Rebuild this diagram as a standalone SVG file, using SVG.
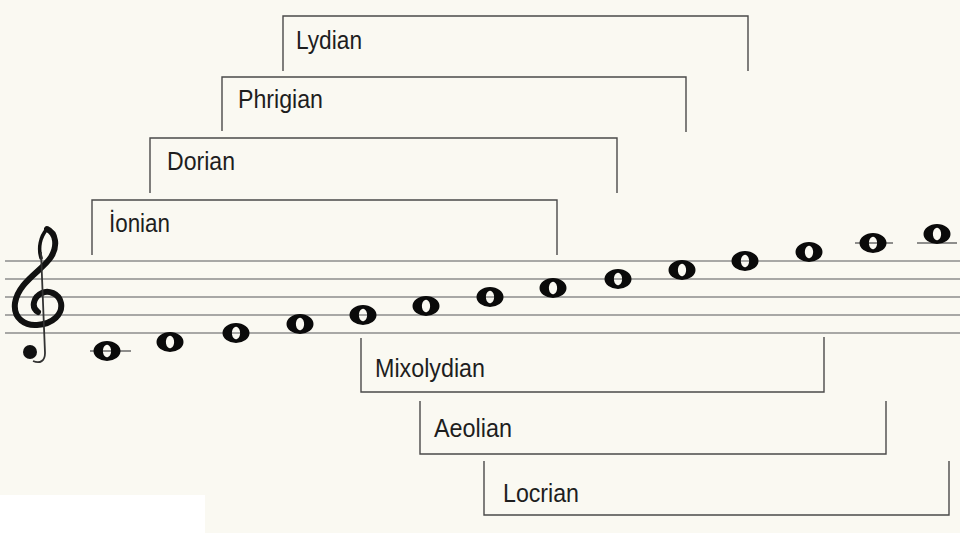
<svg xmlns="http://www.w3.org/2000/svg" width="960" height="533" viewBox="0 0 960 533">
<style>
.staff{stroke:#8c8c8c;stroke-width:1.6;fill:none}
.ledger{stroke:#6a6a6a;stroke-width:1.6;fill:none}
.br{stroke:#4a4a4a;stroke-width:1.4;fill:none}
.lbl{font-family:"Liberation Sans",Arial,sans-serif;font-size:25px;fill:#1e1e1e}
.note{fill:#0a0a0a;fill-rule:evenodd}
</style>
<defs>
<path id="wn" d="M -13.5 0 A 13.5 10 0 1 0 13.5 0 A 13.5 10 0 1 0 -13.5 0 Z M -1 -6 A 4 6 0 1 0 1 6 A 4 6 0 1 0 -1 -6 Z"/>
</defs>
<rect width="960" height="533" fill="#faf9f2"/>
<rect x="0" y="495" width="205" height="38" fill="#ffffff"/>
<g id="staff">
<line class="staff" x1="5" y1="261" x2="960" y2="261"/>
<line class="staff" x1="5" y1="279" x2="960" y2="279"/>
<line class="staff" x1="5" y1="297" x2="960" y2="297"/>
<line class="staff" x1="5" y1="315" x2="960" y2="315"/>
<line class="staff" x1="5" y1="333" x2="960" y2="333"/>
<line class="ledger" x1="90" y1="351" x2="131" y2="351"/>
<line class="ledger" x1="855" y1="243" x2="893" y2="243"/>
<line class="ledger" x1="917" y1="243" x2="957" y2="243"/>
</g>
<g id="clef">
<path d="M 47 229 C 56 233, 58 246, 51 257 C 43 270, 18 282, 15 303 C 13 319, 26 326, 37 325 C 53 324, 63 314, 61 303 C 59 293, 48 290, 42 293 C 33 297, 31 308, 38 312" fill="none" stroke="#111" stroke-width="6" stroke-linecap="round"/>
<path d="M 47 229 C 40 237, 38 248, 41 258" fill="none" stroke="#111" stroke-width="3.5" stroke-linecap="round"/>
<path d="M 41 252 L 45 353 C 45 361, 40 364, 33 361" fill="none" stroke="#333" stroke-width="1.8"/>
<circle cx="30" cy="352" r="7" fill="#111"/>
</g>
<g id="notes">
<use href="#wn" class="note" x="107" y="351"/>
<use href="#wn" class="note" x="170" y="342"/>
<use href="#wn" class="note" x="236" y="333"/>
<use href="#wn" class="note" x="300" y="324"/>
<use href="#wn" class="note" x="363" y="315"/>
<use href="#wn" class="note" x="426" y="306"/>
<use href="#wn" class="note" x="490" y="297"/>
<use href="#wn" class="note" x="553" y="288"/>
<use href="#wn" class="note" x="618" y="279"/>
<use href="#wn" class="note" x="682" y="270"/>
<use href="#wn" class="note" x="745" y="261"/>
<use href="#wn" class="note" x="809" y="252"/>
<use href="#wn" class="note" x="873" y="243"/>
<use href="#wn" class="note" x="937" y="234"/>
</g>
<g id="connectors">
<polyline id="br-lydian" class="br" points="283,71 283,16 748,16 748,71"/>
<polyline id="br-phrigian" class="br" points="222,131 222,77 686,77 686,132"/>
<polyline id="br-dorian" class="br" points="150,193 150,138 617,138 617,193"/>
<polyline id="br-ionian" class="br" points="92,255 92,200 557,200 557,255"/>
<polyline id="br-mixolydian" class="br" points="361,338 361,392 824,392 824,337"/>
<polyline id="br-aeolian" class="br" points="420,401 420,454 886,454 886,401"/>
<polyline id="br-locrian" class="br" points="484,461 484,515 949,515 949,461"/>
</g>
<g id="lydian"><text class="lbl" x="296" y="49" textLength="66" lengthAdjust="spacingAndGlyphs">Lydian</text></g>
<g id="phrigian"><text class="lbl" x="238" y="108" textLength="85" lengthAdjust="spacingAndGlyphs">Phrigian</text></g>
<g id="dorian"><text class="lbl" x="167" y="170" textLength="68" lengthAdjust="spacingAndGlyphs">Dorian</text></g>
<g id="ionian"><text class="lbl" x="109" y="232" textLength="61" lengthAdjust="spacingAndGlyphs">İonian</text></g>
<g id="mixolydian"><text class="lbl" x="375" y="377" textLength="110" lengthAdjust="spacingAndGlyphs">Mixolydian</text></g>
<g id="aeolian"><text class="lbl" x="434" y="437" textLength="78" lengthAdjust="spacingAndGlyphs">Aeolian</text></g>
<g id="locrian"><text class="lbl" x="503" y="502" textLength="76" lengthAdjust="spacingAndGlyphs">Locrian</text></g>
</svg>
